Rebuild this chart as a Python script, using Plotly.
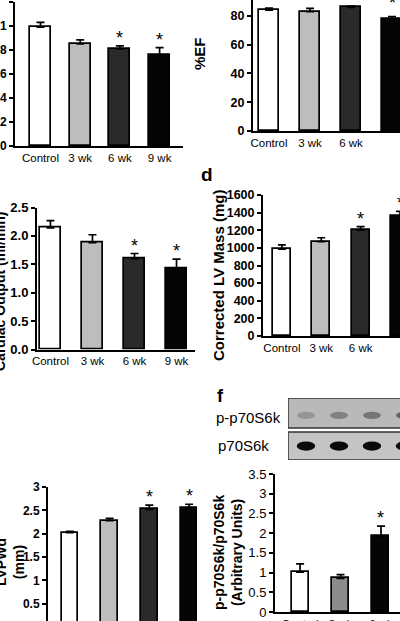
import plotly.graph_objects as go

W, H = 400, 621

groups = ["Control", "3 wk", "6 wk", "9 wk"]

# panel a (top-left)
a_vals = [0.99, 0.85, 0.81, 0.76]
a_err = [0.04, 0.035, 0.025, 0.06]
a_sig = ["", "", "*", "*"]
a_ticks = [0, 0.2, 0.4, 0.6, 0.8, 1.0, 1.2]
a_ticktext = ["0", "0.2", "0.4", "0.6", "0.8", "1", "1.2"]

# panel b (%EF)
b_vals = [84, 83, 86, 78]
b_err = [1.4, 2.3, 0.8, 1.6]
b_sig = ["", "", "", "*"]
b_ticks = [0, 20, 40, 60, 80]
b_ticktext = ["0", "20", "40", "60", "80"]

# panel c
c_vals = [2.14, 1.88, 1.60, 1.43]
c_err = [0.13, 0.14, 0.09, 0.16]
c_sig = ["", "", "*", "*"]
c_ticks = [0.0, 0.5, 1.0, 1.5, 2.0, 2.5]
c_ticktext = ["0.0", "0.5", "1.0", "1.5", "2.0", "2.5"]

# panel d (Corrected LV Mass)
d_vals = [985, 1070, 1200, 1360]
d_err = [50, 45, 40, 55]
d_sig = ["", "", "*", "*"]
d_ticks = [0, 200, 400, 600, 800, 1000, 1200, 1400, 1600]
d_ticktext = ["0", "200", "400", "600", "800", "1000", "1200", "1400", "1600"]

# panel e (LVPWd)
e_vals = [2.02, 2.28, 2.52, 2.56]
e_err = [0.03, 0.05, 0.09, 0.07]
e_sig = ["", "", "*", "*"]
e_ticks = [0.5, 1, 1.5, 2, 2.5, 3]
e_ticktext = ["0.5", "1", "1.5", "2", "2.5", "3"]

# panel f (p-p70S6k / p70S6k)
f_groups = ["Control", "3 wk", "6 wk"]
f_vals = [1.01, 0.85, 1.92]
f_err = [0.21, 0.10, 0.26]
f_sig = ["", "", "*"]
f_ticks = [0, 0.5, 1, 1.5, 2, 2.5, 3, 3.5]
f_ticktext = ["0", "0.5", "1", "1.5", "2", "2.5", "3", "3.5"]

# western blot band intensities (0 = none, 1 = black)
blot_labels = ["p-p70S6k", "p70S6k"]
blot_phospho = [0.30, 0.42, 0.50, 0.62]
blot_total = [0.95, 0.95, 0.95, 0.92]

colors4 = ["#ffffff", "#bdbdbd", "#2a2a2a", "#050505"]
colors_f = ["#ffffff", "#8c8c8c", "#050505"]


def xd(a, b):
    return [a / W, b / W]


def yd(top, bottom):
    return [max(0.0, 1 - bottom / H), min(1.0, 1 - top / H)]


panels = [
    # suffix, cats, vals, errs, sig, ticks, ticktext, colors, xdom, ydom, xrange, yrange, bar width, ytick size, bold, star shift
    ("", groups, a_vals, a_err, a_sig, a_ticks, a_ticktext, colors4, (15, 183), (2, 146), [-0.642, 3.589], [0, 1.2], 0.53, 12, True, 8),
    ("2", groups, b_vals, b_err, b_sig, b_ticks, b_ticktext, colors4, (253, 400), (0, 131), [-0.39, 3.195], [0, 91.1], 0.50, 12.5, True, 14),
    ("3", groups, c_vals, c_err, c_sig, c_ticks, c_ticktext, colors4, (37, 195), (207.5, 349.5), [-0.32, 3.44], [0, 2.5], 0.48, 13, True, 8),
    ("4", groups, d_vals, d_err, d_sig, d_ticks, d_ticktext, colors4, (263, 400), (195, 336), [-0.48, 3.0], [0, 1600], 0.46, 12.5, True, 8),
    ("5", groups, e_vals, e_err, e_sig, e_ticks, e_ticktext, colors4, (48, 205), (487, 621), [-0.55, 3.40], [0.128, 3.0], 0.41, 12, True, 8),
    ("6", f_groups, f_vals, f_err, f_sig, f_ticks, f_ticktext, colors_f, (275, 400), (474, 612), [-0.62, 2.47], [0, 3.5], 0.42, 13, False, 8),
]

fig = go.Figure()
annotations = []
layout = {}

for (sfx, cats, vals, errs, sig, ticks, ticktext, cols, xdom, ydom, xr, yr, bw, yfs, bold, sshift) in panels:
    xname = "x" + sfx
    yname = "y" + sfx
    xs = list(range(len(cats)))
    fig.add_trace(go.Bar(
        x=xs, y=vals, width=bw, xaxis=xname, yaxis=yname,
        marker=dict(color=cols, line=dict(color="#000000", width=1.7)),
        error_y=dict(type="data", symmetric=False, array=errs, arrayminus=[0] * len(errs),
                     color="#000000", thickness=1.7, width=4),
        hoverinfo="skip",
    ))
    for i, s in enumerate(sig):
        if s:
            annotations.append(dict(
                x=i, y=vals[i] + errs[i], xref=xname, yref=yname, text=s,
                showarrow=False, yanchor="middle", yshift=sshift,
                font=dict(family="Arial", size=18, color="#000000"),
            ))
    shown = ["<b>%s</b>" % t for t in ticktext] if bold else ticktext
    layout["xaxis" + sfx] = dict(
        domain=xd(*xdom), range=xr, anchor=yname, showgrid=False, zeroline=False,
        showline=(sfx != "5"), linecolor="#000000", linewidth=2,
        tickmode="array", tickvals=xs, ticktext=cats, ticks="",
        tickfont=dict(family="Arial", size=11.5, color="#000000"),
        automargin=False, fixedrange=True,
    )
    layout["yaxis" + sfx] = dict(
        domain=yd(*ydom), range=yr, anchor=xname, showgrid=False, zeroline=False,
        showline=True, linecolor="#000000", linewidth=2,
        tickmode="array", tickvals=ticks, ticktext=shown,
        ticks="outside", ticklen=4, tickwidth=1.5, tickcolor="#000000",
        tickfont=dict(family="Arial", size=yfs, color="#000000"),
        automargin=False, fixedrange=True,
    )

# ---- western blot (panel f top) ----
lanes = list(range(len(blot_phospho)))
layout["xaxis7"] = dict(domain=xd(288, 400), range=[-0.545, 2.85], anchor="y7",
                        visible=False, fixedrange=True)
layout["yaxis7"] = dict(domain=yd(398, 460), range=[0, 1], anchor="x7",
                        visible=False, fixedrange=True)
shapes = [
    dict(type="rect", xref="x7", yref="y7", x0=-0.545, x1=3.6, y0=0.516, y1=1.0,
         fillcolor="#b9b9b9", line=dict(color="#333333", width=1.5), layer="below"),
    dict(type="rect", xref="x7", yref="y7", x0=-0.545, x1=3.6, y0=0.0, y1=0.452,
         fillcolor="#c4c4c4", line=dict(color="#333333", width=1.5), layer="below"),
]


def grey(v):
    g = int(round(200 * (1 - v)))
    return "rgb(%d,%d,%d)" % (g, g, g)


for lane, v in zip(lanes, blot_phospho):
    shapes.append(dict(type="circle", xref="x7", yref="y7", x0=lane - 0.27, x1=lane + 0.27,
                       y0=0.66, y1=0.78, fillcolor=grey(v), line=dict(width=0),
                       opacity=0.8, layer="above"))
for lane, v in zip(lanes, blot_total):
    shapes.append(dict(type="circle", xref="x7", yref="y7", x0=lane - 0.28, x1=lane + 0.28,
                       y0=0.15, y1=0.30, fillcolor=grey(v), line=dict(width=0), layer="above"))
# invisible trace to activate blot axes
fig.add_trace(go.Scatter(x=lanes, y=[0.5] * len(lanes), xaxis="x7", yaxis="y7",
                         mode="markers", marker=dict(opacity=0), hoverinfo="skip"))


def pa(px, py):
    return px / W, 1 - py / H


def title(text, px, py, size, bold=True, angle=-90, xanchor="center"):
    x, y = pa(px, py)
    annotations.append(dict(
        x=x, y=y, xref="paper", yref="paper", text=("<b>%s</b>" % text) if bold else text,
        showarrow=False, textangle=angle, xanchor=xanchor, yanchor="middle",
        font=dict(family="Arial", size=size, color="#000000"),
    ))


title("%EF", 200, 54, 15)
title("Corrected LV Mass (mg)", 218, 276, 15)
title("Cardiac Output (ml/min)", 0, 292, 14)
title("LVPWd<br>(mm)", 10, 562, 14)
title("p-p70S6k/p70S6k<br>(Arbitrary Units)", 228, 552, 14)
title("d", 207, 175, 19, angle=0)
title("f", 220, 396, 18, angle=0)
title(blot_labels[0], 214, 417, 15, bold=False, angle=0, xanchor="left")
title(blot_labels[1], 216, 445, 15, bold=False, angle=0, xanchor="left")

fig.update_layout(
    width=W, height=H, margin=dict(l=0, r=0, t=0, b=0),
    paper_bgcolor="#ffffff", plot_bgcolor="rgba(0,0,0,0)",
    showlegend=False, annotations=annotations, shapes=shapes, bargap=0,
    **layout,
)

fig.write_html("out.html", config={"displayModeBar": False},
               post_script="document.body.style.margin='0';")
